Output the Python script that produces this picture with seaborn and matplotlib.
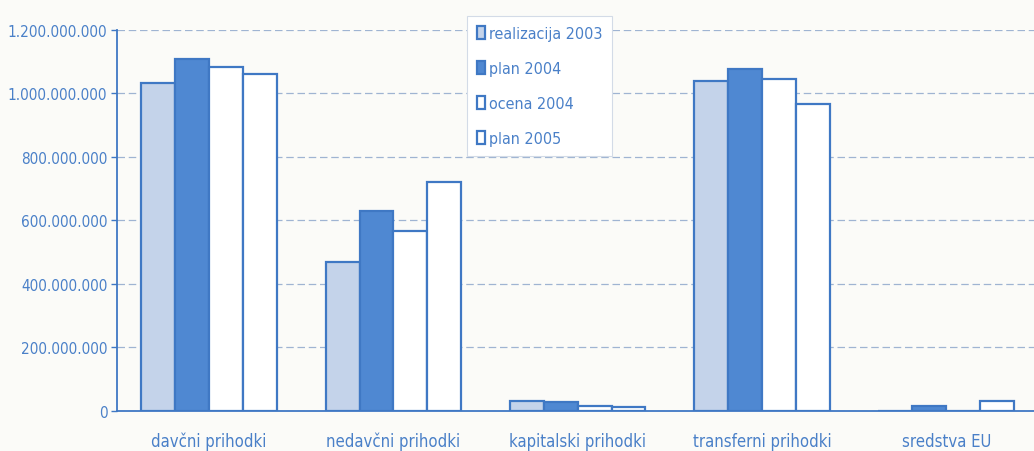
import matplotlib
matplotlib.use("Agg")
import matplotlib.pyplot as plt
import matplotlib.ticker as mticker
import seaborn as sns
import pandas as pd

# categories and series
kategorije = ["davčni prihodki", "nedavčni prihodki", "kapitalski prihodki",
              "transferni prihodki", "sredstva EU"]
serije = ["realizacija 2003", "plan 2004", "ocena 2004", "plan 2005"]

realizacija_2003 = [1033000000, 469000000, 30000000, 1039000000, 0]
plan_2004 = [1108000000, 630000000, 28000000, 1077000000, 16000000]
ocena_2004 = [1083000000, 567000000, 17000000, 1046000000, 0]
plan_2005 = [1061000000, 721000000, 12000000, 967000000, 31000000]

y_ticks = [0, 200000000, 400000000, 600000000, 800000000, 1000000000, 1200000000]

BLUE = "#3f78c4"
TEXT = "#4a80c8"
BG = "#fbfbf8"

rows = []
for name, vals in zip(serije, [realizacija_2003, plan_2004, ocena_2004, plan_2005]):
    for k, v in zip(kategorije, vals):
        rows.append({"kategorija": k, "serija": name, "vrednost": v})
df = pd.DataFrame(rows)

sns.set_style("white")
plt.rcParams["font.family"] = ["DejaVu Sans"]
plt.rcParams["font.stretch"] = "condensed"

fig = plt.figure(figsize=(10.34, 4.52), dpi=100, facecolor=BG)
ax = fig.add_axes([0.1132, 0.0885, 0.891, 0.843])
ax.set_facecolor(BG)

palette = ["#c4d3ea", "#4f88d2", "#ffffff", "#ffffff"]
sns.barplot(data=df, x="kategorija", y="vrednost", hue="serija",
            order=kategorije, hue_order=serije, palette=palette,
            width=0.735, edgecolor=BLUE, linewidth=1.6, saturation=1,
            ax=ax)

ax.set_ylim(0, 1200000000)
ax.set_yticks(y_ticks)
ax.yaxis.set_major_formatter(
    mticker.FuncFormatter(lambda v, p: f"{v:,.0f}".replace(",", ".")))
ax.set_xlabel("")
ax.set_ylabel("")

ax.grid(axis="y", color="#9fb4d2", linestyle=(0, (6, 3)), linewidth=0.9)
ax.set_axisbelow(True)
for side in ["top", "right"]:
    ax.spines[side].set_visible(False)
for side in ["left", "bottom"]:
    ax.spines[side].set_color(BLUE)
    ax.spines[side].set_linewidth(1.3)

ax.tick_params(axis="y", colors=BLUE, labelcolor=TEXT, labelsize=11,
               length=4, width=1, left=True, pad=3)
ax.tick_params(axis="x", labelcolor=TEXT, labelsize=12, length=0, pad=15)

leg = ax.legend(loc="upper left", bbox_to_anchor=(459 / 1034, 1 - 9 / 452),
                bbox_transform=fig.transFigure, frameon=True, fontsize=11.5,
                handlelength=0.5, handleheight=0.9, handletextpad=0.3,
                labelspacing=1.25, borderpad=0.6, fancybox=False)
leg.get_frame().set_edgecolor("#d3dbe7")
leg.get_frame().set_linewidth(0.8)
leg.get_frame().set_facecolor("white")
leg.get_frame().set_alpha(1)
for t in leg.get_texts():
    t.set_color(TEXT)

fig.savefig("out.png", dpi=100, facecolor=BG)
